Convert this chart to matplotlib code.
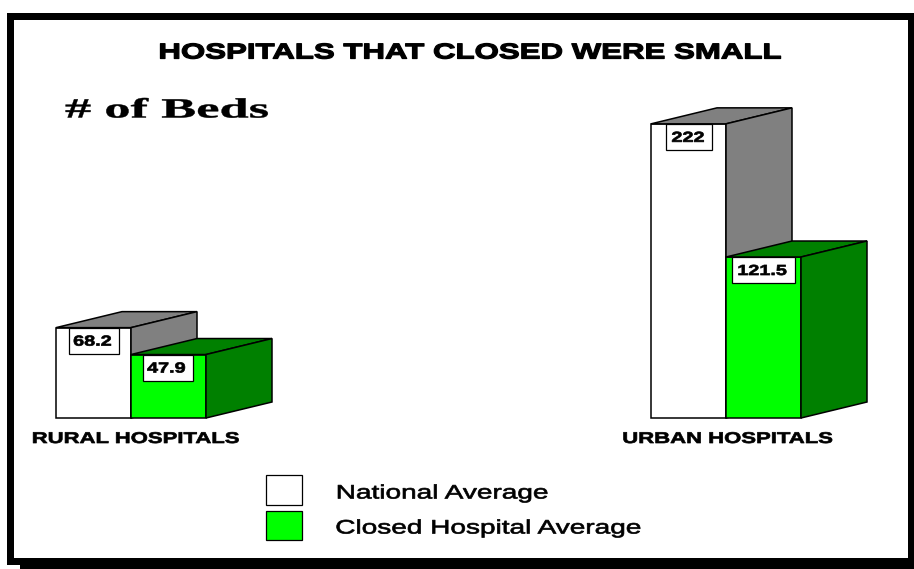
import matplotlib
matplotlib.use("Agg")
import matplotlib.pyplot as plt
from matplotlib.patches import Polygon, Rectangle
from matplotlib.patheffects import AbstractPathEffect
from matplotlib.transforms import Affine2D

title = "HOSPITALS THAT CLOSED WERE SMALL"
subtitle = "# of Beds"
categories = ["RURAL HOSPITALS", "URBAN HOSPITALS"]
national = [68.2, 222]
closed = [47.9, 121.5]
value_labels_national = ["68.2", "222"]
value_labels_closed = ["47.9", "121.5"]
series_names = ["National Average", "Closed Hospital Average"]

W, H = 914, 569
BASE_Y = 418
PX_PER_UNIT = 1.325
BAR_W = 75
DX, DY_PX = 66, 16
DY = DY_PX / PX_PER_UNIT
BAR_X = [56, 651]


class StretchX(AbstractPathEffect):
    """Widen glyphs horizontally about a pixel position, with a slight stroke for weight."""
    def __init__(self, sx, cx, stroke=0.0):
        super().__init__()
        self.sx, self.cx, self.stroke = sx, cx, stroke

    def draw_path(self, renderer, gc, tpath, affine, rgbFace=None):
        a = affine + Affine2D().translate(-self.cx, 0).scale(self.sx, 1).translate(self.cx, 0)
        gc0 = renderer.new_gc()
        gc0.copy_properties(gc)
        gc0.set_foreground("black")
        gc0.set_linewidth(self.stroke)
        renderer.draw_path(gc0, tpath, a, rgbFace)
        gc0.restore()


fig = plt.figure(figsize=(W / 100, H / 100), dpi=100, facecolor="white")
ax = fig.add_axes([0, 0, 1, 1])
ax.set_xlim(0, W)
ax.set_ylim((BASE_Y - H) / PX_PER_UNIT, BASE_Y / PX_PER_UNIT)
ax.axis("off")


def py(p):
    return (BASE_Y - p) / PX_PER_UNIT


def rect_px(x0, y0, x1, y1, **kw):
    ax.add_patch(Rectangle((x0, py(y1)), x1 - x0, py(y0) - py(y1), **kw))


def stext(s, x0, x1, yc, size, sx, stroke=0.0, **kw):
    cx = (x0 + x1) / 2
    ax.text(cx, py(yc), s, ha="center", va="center", fontsize=size,
            path_effects=[StretchX(sx, cx, stroke)], color="black", **kw)


# frame with drop shadow
rect_px(20, 20, 914, 569, fc="black", ec="none", zorder=0)
rect_px(7, 13, 914, 565, fc="black", ec="none", zorder=1)
rect_px(14, 20, 908, 558, fc="white", ec="none", zorder=1.5)


def bar3d(x, v, front, top, side, z):
    ax.bar(x, v, width=BAR_W, align="edge", color=front, edgecolor="black", linewidth=1.1, zorder=z)
    ax.add_patch(Polygon([(x, v), (x + DX, v + DY), (x + BAR_W + DX, v + DY), (x + BAR_W, v)],
                         fc=top, ec="black", lw=1.1, zorder=z))
    ax.add_patch(Polygon([(x + BAR_W, 0), (x + BAR_W + DX, DY), (x + BAR_W + DX, v + DY), (x + BAR_W, v)],
                         fc=side, ec="black", lw=1.1, zorder=z))


for i in range(2):
    x = BAR_X[i]
    bar3d(x, national[i], "white", "#808080", "#808080", 2)
    bar3d(x + BAR_W, closed[i], "#00ff00", "#008000", "#008000", 3)


def value_box(cx, v, w, s, tx):
    top = BASE_Y - v * PX_PER_UNIT
    rect_px(cx - w / 2, top, cx + w / 2, top + 26, fc="white", ec="black", lw=0.9, zorder=4)
    stext(s, tx - 10, tx + 10, top + 14, 10.5, 1.36, 0.5, fontweight="bold",
          family="Liberation Sans", zorder=5)


value_box(94, national[0], 50, value_labels_national[0], 92.5)
value_box(168, closed[0], 50, value_labels_closed[0], 166.5)
value_box(689, national[1], 46, value_labels_national[1], 688)
value_box(763.5, closed[1], 63, value_labels_closed[1], 762)

stext(title, 157, 780, 53, 15.5, 1.45, 0.9, fontweight="bold", family="Liberation Sans", zorder=5)
stext(subtitle, 66, 268, 111, 20, 1.89, 0.3, fontweight="bold", family="Liberation Serif", zorder=5)
stext(categories[0], 32, 238, 438.5, 11.2, 1.42, 0.5, fontweight="bold", family="Liberation Sans", zorder=5)
stext(categories[1], 622, 832, 438.5, 11.2, 1.42, 0.5, fontweight="bold", family="Liberation Sans", zorder=5)

# legend
rect_px(266, 475, 302, 505, fc="white", ec="black", lw=0.9, zorder=4)
rect_px(266, 511, 302, 540, fc="#00ff00", ec="black", lw=0.9, zorder=4)
stext(series_names[0], 337, 549, 494, 14, 1.44, 0.5, family="Liberation Sans", zorder=5)
stext(series_names[1], 337, 642, 529, 14, 1.44, 0.5, family="Liberation Sans", zorder=5)

fig.savefig("out.png", dpi=100, facecolor="white")
